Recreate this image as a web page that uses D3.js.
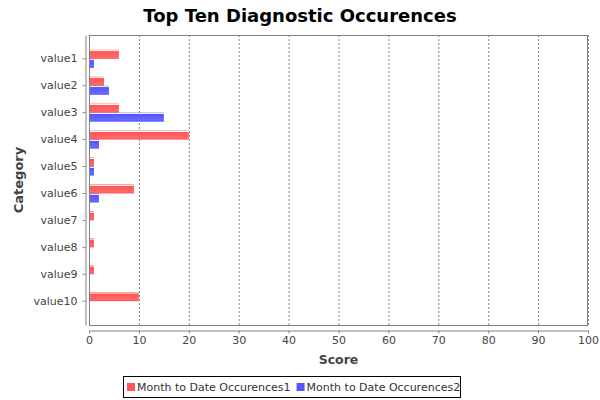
<!DOCTYPE html>
<html><head><meta charset="utf-8">
<script src="https://cdn.jsdelivr.net/npm/d3@7"></script>
<style>body{margin:0;background:#fff}svg{display:block}</style>
</head><body>
<svg id="c" width="600" height="400"></svg>
<script>
const categories = ["value1","value2","value3","value4","value5","value6","value7","value8","value9","value10"];
const seriesNames = ["Month to Date Occurences1","Month to Date Occurences2"];
const series1 = [6,3,6,20,1,9,1,1,1,10];
const series2 = [1,4,15,2,1,2,0,0,0,0];
const xTicks = [0,10,20,30,40,50,60,70,80,90,100];
const colors = ["#ff5555","#5555ff"];

const svg = d3.select("#c");
const L = 89, R = 588, T = 35, B = 325;
const font = "'DejaVu Sans', sans-serif";

const x = d3.scaleLinear().domain([0,100]).range([L,R]);
const y = d3.scaleBand().domain(categories).range([T,B]).paddingInner(0.33).paddingOuter(0.55);
const ys = d3.scaleBand().domain([0,1]).range([0,y.bandwidth()]);

const defs = svg.append("defs");
colors.forEach((c,i)=>{
  const br = d3.color(c).brighter(0.6).formatHex();
  const g = defs.append("linearGradient").attr("id","g"+i).attr("x1",0).attr("x2",0).attr("y1",0).attr("y2",1);
  [[0,c],[0.1,"#ffffff"],[0.2,c],[0.8,br],[1,c]].forEach(([o,col])=>g.append("stop").attr("offset",o).attr("stop-color",col));
});

svg.append("text").attr("x",300).attr("y",22).attr("text-anchor","middle")
  .style("font-family",font).style("font-weight","bold").style("font-size","18px").text("Top Ten Diagnostic Occurences");

svg.append("rect").attr("x",L).attr("y",T).attr("width",R-L).attr("height",B-T).attr("fill","#fff");

svg.append("g").selectAll("line").data(xTicks).join("line")
  .attr("x1",d=>x(d)+0.5).attr("x2",d=>x(d)+0.5).attr("y1",T).attr("y2",B)
  .attr("stroke","#888").attr("stroke-width",1).attr("stroke-dasharray","2,2");

const data = categories.map((c,i)=>({c, v:[series1[i],series2[i]]}));
const grp = svg.append("g").selectAll("g").data(data).join("g").attr("transform",d=>`translate(0,${y(d.c)})`);
grp.selectAll("rect").data(d=>d.v.map((v,s)=>({v,s}))).join("rect")
  .attr("x",x(0)).attr("y",d=>ys(d.s)).attr("width",d=>x(d.v)-x(0)).attr("height",ys.bandwidth())
  .attr("fill",d=>`url(#g${d.s})`);

svg.append("rect").attr("x",L+0.5).attr("y",T+0.5).attr("width",R-L-1).attr("height",B-T).attr("fill","none").attr("stroke","#808080");

const xa = svg.append("g").attr("transform",`translate(0,${B+5.5})`)
  .call(d3.axisBottom(x).tickValues(xTicks).tickSize(3).tickSizeOuter(0).tickPadding(3));
xa.select(".domain").attr("stroke","#808080");
xa.selectAll(".tick line").attr("stroke","#808080");
xa.selectAll("text").style("font-family",font).style("font-size","11px").attr("fill","#444");

const ya = svg.append("g").attr("transform",`translate(${L-3.5},0)`)
  .call(d3.axisLeft(y).tickSize(3).tickSizeOuter(0).tickPadding(5));
ya.select(".domain").attr("stroke","#808080");
ya.selectAll(".tick line").attr("stroke","#808080");
ya.selectAll("text").style("font-family",font).style("font-size","11px").attr("fill","#444");

svg.append("text").attr("x",(L+R)/2).attr("y",364).attr("text-anchor","middle")
  .style("font-family",font).style("font-weight","bold").style("font-size","12.5px").attr("fill","#444").text("Score");
svg.append("text").attr("transform",`translate(23,${(T+B)/2}) rotate(-90)`).attr("text-anchor","middle")
  .style("font-family",font).style("font-weight","bold").style("font-size","13px").attr("fill","#444").text("Category");

const lg = svg.append("g");
lg.append("rect").attr("x",123.5).attr("y",376.5).attr("width",337).attr("height",21).attr("fill","#fff").attr("stroke","#000");
let lx = 127;
seriesNames.forEach((n,i)=>{
  lg.append("rect").attr("x",lx).attr("y",383).attr("width",8).attr("height",8).attr("fill",colors[i]);
  const t = lg.append("text").attr("x",lx+10).attr("y",391).style("font-family",font).style("font-size","11px").attr("fill","#333").text(n);
  lx += 10 + t.node().getComputedTextLength() + 6;
});
</script>
</body></html>
